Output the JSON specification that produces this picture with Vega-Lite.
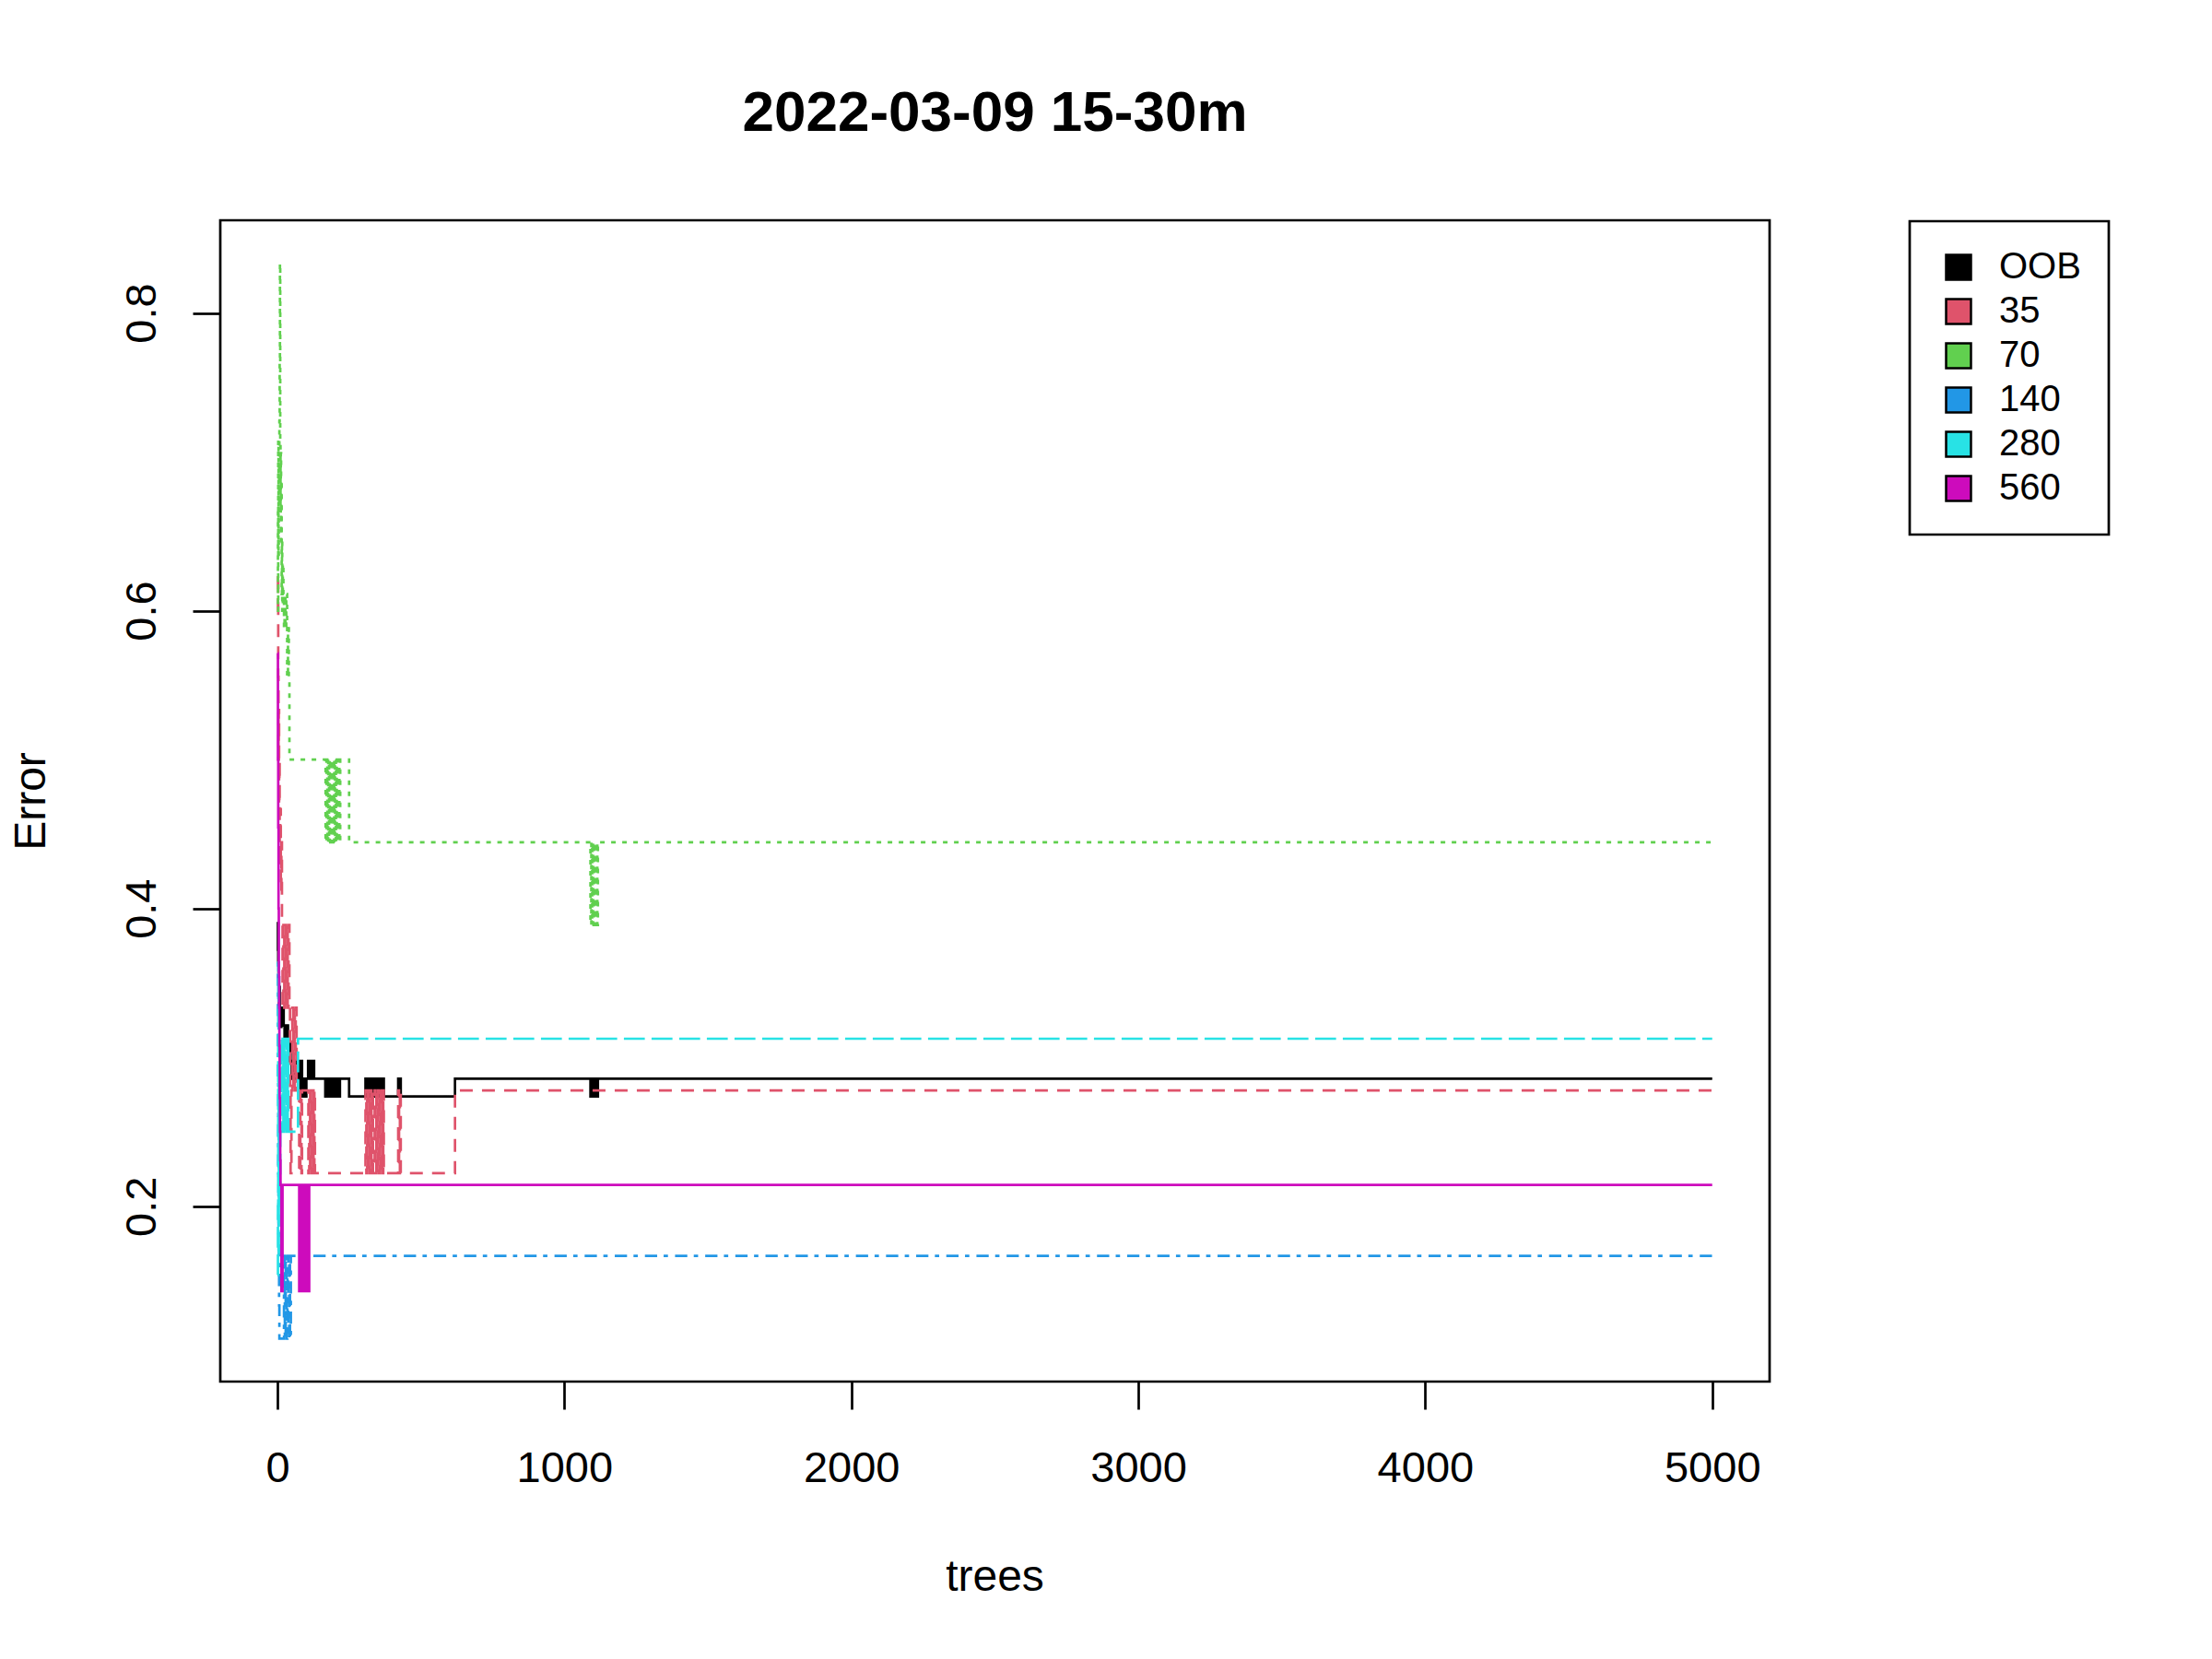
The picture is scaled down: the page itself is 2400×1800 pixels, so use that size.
{
  "$schema": "https://vega.github.io/schema/vega-lite/v6.json",
  "autosize": {"type": "none"},
  "padding": {"left": 239, "top": 239, "right": 480, "bottom": 301},
  "width": 1681,
  "height": 1260,
  "background": "white",
  "title": {"text": "2022-03-09 15-30m", "font": "Liberation Sans", "fontSize": 62, "fontWeight": "bold", "color": "black", "anchor": "middle", "baseline": "alphabetic", "offset": 35},
  "data": {"values": [
    {"series":"OOB","trees":1,"error":0.3714},{"series":"OOB","trees":2,"error":0.3902},{"series":"OOB","trees":3,"error":0.3636},{"series":"OOB","trees":4,"error":0.3492},{"series":"OOB","trees":5,"error":0.3538},{"series":"OOB","trees":6,"error":0.3333},{"series":"OOB","trees":7,"error":0.3472},{"series":"OOB","trees":8,"error":0.3243},{"series":"OOB","trees":9,"error":0.3333},{"series":"OOB","trees":10,"error":0.3291},{"series":"OOB","trees":12,"error":0.3205},{"series":"OOB","trees":14,"error":0.3333},{"series":"OOB","trees":16,"error":0.3214},{"series":"OOB","trees":19,"error":0.3333},{"series":"OOB","trees":22,"error":0.3214},{"series":"OOB","trees":25,"error":0.3095},{"series":"OOB","trees":28,"error":0.3214},{"series":"OOB","trees":31,"error":0.3095},{"series":"OOB","trees":34,"error":0.3214},{"series":"OOB","trees":37,"error":0.3095},{"series":"OOB","trees":40,"error":0.2976},{"series":"OOB","trees":43,"error":0.3095},{"series":"OOB","trees":46,"error":0.2976},{"series":"OOB","trees":50,"error":0.2857},{"series":"OOB","trees":53,"error":0.2976},{"series":"OOB","trees":56,"error":0.2857},{"series":"OOB","trees":60,"error":0.2976},{"series":"OOB","trees":64,"error":0.2857},{"series":"OOB","trees":68,"error":0.2976},{"series":"OOB","trees":72,"error":0.2857},{"series":"OOB","trees":76,"error":0.2976},{"series":"OOB","trees":80,"error":0.2738},{"series":"OOB","trees":83,"error":0.2976},{"series":"OOB","trees":86,"error":0.2738},{"series":"OOB","trees":89,"error":0.2857},{"series":"OOB","trees":92,"error":0.2738},{"series":"OOB","trees":95,"error":0.2857},{"series":"OOB","trees":98,"error":0.2738},{"series":"OOB","trees":101,"error":0.2857},{"series":"OOB","trees":107,"error":0.2976},{"series":"OOB","trees":110,"error":0.2857},{"series":"OOB","trees":113,"error":0.2976},{"series":"OOB","trees":116,"error":0.2857},{"series":"OOB","trees":119,"error":0.2976},{"series":"OOB","trees":122,"error":0.2857},{"series":"OOB","trees":125,"error":0.2976},{"series":"OOB","trees":128,"error":0.2857},
    {"series":"OOB","trees":167,"error":0.2738},{"series":"OOB","trees":170,"error":0.2857},{"series":"OOB","trees":173,"error":0.2738},{"series":"OOB","trees":176,"error":0.2857},{"series":"OOB","trees":179,"error":0.2738},{"series":"OOB","trees":182,"error":0.2857},{"series":"OOB","trees":185,"error":0.2738},{"series":"OOB","trees":188,"error":0.2857},{"series":"OOB","trees":191,"error":0.2738},{"series":"OOB","trees":194,"error":0.2857},{"series":"OOB","trees":197,"error":0.2738},{"series":"OOB","trees":200,"error":0.2857},{"series":"OOB","trees":203,"error":0.2738},{"series":"OOB","trees":206,"error":0.2857},{"series":"OOB","trees":209,"error":0.2738},{"series":"OOB","trees":212,"error":0.2857},{"series":"OOB","trees":215,"error":0.2738},{"series":"OOB","trees":218,"error":0.2857},
    {"series":"OOB","trees":250,"error":0.2738},
    {"series":"OOB","trees":307,"error":0.2857},{"series":"OOB","trees":310,"error":0.2738},{"series":"OOB","trees":313,"error":0.2857},{"series":"OOB","trees":316,"error":0.2738},{"series":"OOB","trees":319,"error":0.2857},{"series":"OOB","trees":322,"error":0.2738},{"series":"OOB","trees":325,"error":0.2857},{"series":"OOB","trees":328,"error":0.2738},{"series":"OOB","trees":331,"error":0.2857},{"series":"OOB","trees":333,"error":0.2738},
    {"series":"OOB","trees":339,"error":0.2857},{"series":"OOB","trees":342,"error":0.2738},{"series":"OOB","trees":345,"error":0.2857},{"series":"OOB","trees":348,"error":0.2738},{"series":"OOB","trees":351,"error":0.2857},{"series":"OOB","trees":354,"error":0.2738},{"series":"OOB","trees":357,"error":0.2857},{"series":"OOB","trees":360,"error":0.2738},{"series":"OOB","trees":363,"error":0.2857},{"series":"OOB","trees":366,"error":0.2738},{"series":"OOB","trees":369,"error":0.2857},{"series":"OOB","trees":371,"error":0.2738},
    {"series":"OOB","trees":421,"error":0.2857},{"series":"OOB","trees":424,"error":0.2738},{"series":"OOB","trees":427,"error":0.2857},{"series":"OOB","trees":430,"error":0.2738},
    {"series":"OOB","trees":619,"error":0.2857},
    {"series":"OOB","trees":1091,"error":0.2738},{"series":"OOB","trees":1094,"error":0.2857},{"series":"OOB","trees":1097,"error":0.2738},{"series":"OOB","trees":1100,"error":0.2857},{"series":"OOB","trees":1103,"error":0.2738},{"series":"OOB","trees":1106,"error":0.2857},{"series":"OOB","trees":1109,"error":0.2738},{"series":"OOB","trees":1112,"error":0.2857},{"series":"OOB","trees":1115,"error":0.2738},{"series":"OOB","trees":1117,"error":0.2857},
    {"series":"OOB","trees":5000,"error":0.2857},

    {"series":"35","trees":1,"error":0.6},{"series":"35","trees":2,"error":0.625},{"series":"35","trees":3,"error":0.5556},{"series":"35","trees":4,"error":0.5},{"series":"35","trees":5,"error":0.5333},{"series":"35","trees":6,"error":0.4615},{"series":"35","trees":7,"error":0.5},{"series":"35","trees":8,"error":0.4286},{"series":"35","trees":10,"error":0.4667},{"series":"35","trees":12,"error":0.4118},{"series":"35","trees":14,"error":0.4444},{"series":"35","trees":16,"error":0.3889},
    {"series":"35","trees":18,"error":0.3333},{"series":"35","trees":21,"error":0.3889},{"series":"35","trees":24,"error":0.3333},{"series":"35","trees":27,"error":0.3889},{"series":"35","trees":30,"error":0.3333},{"series":"35","trees":33,"error":0.3889},{"series":"35","trees":36,"error":0.3333},{"series":"35","trees":39,"error":0.3889},{"series":"35","trees":42,"error":0.3333},
    {"series":"35","trees":44,"error":0.2778},{"series":"35","trees":46,"error":0.2222},{"series":"35","trees":49,"error":0.2778},{"series":"35","trees":52,"error":0.3333},{"series":"35","trees":55,"error":0.2778},{"series":"35","trees":58,"error":0.3333},{"series":"35","trees":61,"error":0.2778},{"series":"35","trees":64,"error":0.3333},{"series":"35","trees":67,"error":0.2778},{"series":"35","trees":76,"error":0.2222},{"series":"35","trees":80,"error":0.2778},{"series":"35","trees":84,"error":0.2222},{"series":"35","trees":86,"error":0.2778},
    {"series":"35","trees":108,"error":0.2222},{"series":"35","trees":111,"error":0.2778},{"series":"35","trees":114,"error":0.2222},{"series":"35","trees":117,"error":0.2778},{"series":"35","trees":120,"error":0.2222},{"series":"35","trees":123,"error":0.2778},{"series":"35","trees":126,"error":0.2222},{"series":"35","trees":129,"error":0.2778},{"series":"35","trees":131,"error":0.2222},
    {"series":"35","trees":307,"error":0.2778},{"series":"35","trees":310,"error":0.2222},{"series":"35","trees":313,"error":0.2778},{"series":"35","trees":316,"error":0.2222},{"series":"35","trees":319,"error":0.2778},{"series":"35","trees":322,"error":0.2222},{"series":"35","trees":325,"error":0.2778},{"series":"35","trees":328,"error":0.2222},{"series":"35","trees":331,"error":0.2778},{"series":"35","trees":333,"error":0.2222},
    {"series":"35","trees":339,"error":0.2778},{"series":"35","trees":342,"error":0.2222},{"series":"35","trees":345,"error":0.2778},{"series":"35","trees":348,"error":0.2222},{"series":"35","trees":351,"error":0.2778},{"series":"35","trees":354,"error":0.2222},{"series":"35","trees":357,"error":0.2778},{"series":"35","trees":360,"error":0.2222},{"series":"35","trees":363,"error":0.2778},{"series":"35","trees":366,"error":0.2222},{"series":"35","trees":369,"error":0.2778},{"series":"35","trees":371,"error":0.2222},
    {"series":"35","trees":421,"error":0.2778},{"series":"35","trees":424,"error":0.2222},{"series":"35","trees":427,"error":0.2778},{"series":"35","trees":430,"error":0.2222},
    {"series":"35","trees":619,"error":0.2778},{"series":"35","trees":5000,"error":0.2778},

    {"series":"70","trees":1,"error":0.6667},{"series":"70","trees":2,"error":0.6},{"series":"70","trees":3,"error":0.7143},{"series":"70","trees":4,"error":0.6364},{"series":"70","trees":5,"error":0.7},{"series":"70","trees":6,"error":0.6667},{"series":"70","trees":7,"error":0.7273},{"series":"70","trees":8,"error":0.7692},{"series":"70","trees":9,"error":0.8333},{"series":"70","trees":10,"error":0.7143},{"series":"70","trees":11,"error":0.6667},{"series":"70","trees":12,"error":0.7059},{"series":"70","trees":13,"error":0.6471},{"series":"70","trees":14,"error":0.6875},{"series":"70","trees":15,"error":0.6111},{"series":"70","trees":16,"error":0.6471},{"series":"70","trees":17,"error":0.6},{"series":"70","trees":19,"error":0.6316},{"series":"70","trees":21,"error":0.6111},{"series":"70","trees":23,"error":0.5882},{"series":"70","trees":25,"error":0.6111},{"series":"70","trees":28,"error":0.5882},{"series":"70","trees":31,"error":0.6111},{"series":"70","trees":34,"error":0.5556},{"series":"70","trees":37,"error":0.5882},{"series":"70","trees":40,"error":0.5556},{"series":"70","trees":42,"error":0.5},
    {"series":"70","trees":168,"error":0.4444},{"series":"70","trees":171,"error":0.5},{"series":"70","trees":174,"error":0.4444},{"series":"70","trees":177,"error":0.5},{"series":"70","trees":180,"error":0.4444},{"series":"70","trees":183,"error":0.5},{"series":"70","trees":186,"error":0.4444},{"series":"70","trees":189,"error":0.5},{"series":"70","trees":192,"error":0.4444},{"series":"70","trees":195,"error":0.5},{"series":"70","trees":198,"error":0.4444},{"series":"70","trees":201,"error":0.5},{"series":"70","trees":204,"error":0.4444},{"series":"70","trees":207,"error":0.5},{"series":"70","trees":210,"error":0.4444},{"series":"70","trees":213,"error":0.5},{"series":"70","trees":216,"error":0.4444},{"series":"70","trees":219,"error":0.5},
    {"series":"70","trees":250,"error":0.4444},
    {"series":"70","trees":1091,"error":0.3889},{"series":"70","trees":1094,"error":0.4444},{"series":"70","trees":1097,"error":0.3889},{"series":"70","trees":1100,"error":0.4444},{"series":"70","trees":1103,"error":0.3889},{"series":"70","trees":1106,"error":0.4444},{"series":"70","trees":1109,"error":0.3889},{"series":"70","trees":1112,"error":0.4444},{"series":"70","trees":1115,"error":0.3889},{"series":"70","trees":1117,"error":0.4444},
    {"series":"70","trees":5000,"error":0.4444},

    {"series":"140","trees":1,"error":0.3636},{"series":"140","trees":2,"error":0.2857},{"series":"140","trees":3,"error":0.2222},{"series":"140","trees":4,"error":0.1818},{"series":"140","trees":5,"error":0.1538},{"series":"140","trees":6,"error":0.1333},{"series":"140","trees":7,"error":0.1111},
    {"series":"140","trees":23,"error":0.1667},{"series":"140","trees":26,"error":0.1111},{"series":"140","trees":29,"error":0.1667},{"series":"140","trees":32,"error":0.1111},{"series":"140","trees":35,"error":0.1667},{"series":"140","trees":38,"error":0.1111},{"series":"140","trees":41,"error":0.1667},{"series":"140","trees":44,"error":0.1111},{"series":"140","trees":47,"error":0.1667},{"series":"140","trees":5000,"error":0.1667},

    {"series":"280","trees":1,"error":0.1538},{"series":"280","trees":2,"error":0.2},{"series":"280","trees":3,"error":0.3636},{"series":"280","trees":4,"error":0.1667},{"series":"280","trees":5,"error":0.2857},{"series":"280","trees":6,"error":0.2},{"series":"280","trees":7,"error":0.25},{"series":"280","trees":8,"error":0.2143},{"series":"280","trees":10,"error":0.2667},{"series":"280","trees":12,"error":0.3125},{"series":"280","trees":15,"error":0.25},{"series":"280","trees":18,"error":0.3125},{"series":"280","trees":21,"error":0.25},{"series":"280","trees":24,"error":0.3125},{"series":"280","trees":27,"error":0.25},{"series":"280","trees":30,"error":0.3125},{"series":"280","trees":33,"error":0.25},{"series":"280","trees":36,"error":0.3125},{"series":"280","trees":38,"error":0.25},{"series":"280","trees":72,"error":0.3125},{"series":"280","trees":5000,"error":0.3125},

    {"series":"560","trees":1,"error":0.5714},{"series":"560","trees":2,"error":0.5},{"series":"560","trees":3,"error":0.4545},{"series":"560","trees":4,"error":0.4},{"series":"560","trees":5,"error":0.3571},{"series":"560","trees":6,"error":0.3333},{"series":"560","trees":7,"error":0.3077},{"series":"560","trees":8,"error":0.2727},{"series":"560","trees":9,"error":0.25},{"series":"560","trees":10,"error":0.2308},{"series":"560","trees":11,"error":0.2143},{"series":"560","trees":14,"error":0.1429},{"series":"560","trees":18,"error":0.2143},
    {"series":"560","trees":76,"error":0.1429},{"series":"560","trees":79,"error":0.2143},{"series":"560","trees":82,"error":0.1429},{"series":"560","trees":85,"error":0.2143},{"series":"560","trees":88,"error":0.1429},{"series":"560","trees":91,"error":0.2143},{"series":"560","trees":94,"error":0.1429},{"series":"560","trees":97,"error":0.2143},{"series":"560","trees":100,"error":0.1429},{"series":"560","trees":103,"error":0.2143},{"series":"560","trees":106,"error":0.1429},{"series":"560","trees":109,"error":0.1429},{"series":"560","trees":111,"error":0.2143},{"series":"560","trees":5000,"error":0.2143}
  ]},
  "encoding": {
    "x": {"field": "trees", "type": "quantitative",
      "scale": {"domain": [-198.96, 5199.96], "nice": false, "zero": false},
      "axis": {"values": [0, 1000, 2000, 3000, 4000, 5000], "format": "d", "grid": false, "domain": false,
        "tickSize": 30, "tickWidth": 2.7, "tickColor": "black",
        "labelFont": "Liberation Sans", "labelFontSize": 47, "labelColor": "black", "labelBaseline": "alphabetic", "labelPadding": 78, "labelFlush": false, "labelOverlap": false,
        "title": "trees", "titleFont": "Liberation Sans", "titleFontSize": 48, "titleFontWeight": "normal", "titleColor": "black",
        "titleBaseline": "alphabetic", "titleAlign": "center", "titleX": 840, "titleY": 226}},
    "y": {"field": "error", "type": "quantitative",
      "scale": {"domain": [0.08222, 0.86222], "nice": false, "zero": false},
      "axis": {"values": [0.2, 0.4, 0.6, 0.8], "format": ".1f", "grid": false, "domain": false,
        "tickSize": 30, "tickWidth": 2.7, "tickColor": "black",
        "labelFont": "Liberation Sans", "labelFontSize": 47, "labelColor": "black", "labelAngle": -90, "labelAlign": "center", "labelBaseline": "alphabetic", "labelPadding": 41, "labelFlush": false, "labelOverlap": false,
        "title": "Error", "titleFont": "Liberation Sans", "titleFontSize": 48, "titleFontWeight": "normal", "titleColor": "black",
        "titleAngle": -90, "titleBaseline": "alphabetic", "titleAlign": "center", "titleX": -191, "titleY": 630}}
  },
  "layer": [
    {
      "transform": [{"filter": "false"}],
      "mark": {"type": "square", "filled": true, "stroke": "black", "strokeWidth": 2.5, "opacity": 1},
      "encoding": {
        "color": {"field": "series", "type": "nominal",
          "scale": {"domain": ["OOB", "35", "70", "140", "280", "560"], "range": ["#000000", "#DF536B", "#61D04F", "#2297E6", "#28E2E5", "#CD0BBC"]},
          "legend": {"orient": "none", "legendX": 1833, "legendY": 1, "title": null,
            "strokeColor": "black", "padding": 30, "fillColor": "white",
            "symbolType": "square", "symbolSize": 729, "symbolStrokeWidth": 2.5, "symbolStrokeColor": "black", "symbolOpacity": 1, "symbolOffset": 3,
            "labelFont": "Liberation Sans", "labelFontSize": 40, "labelColor": "black", "labelOffset": 24, "rowPadding": 8,
            "encode": {"legend": {"update": {"strokeWidth": {"value": 2.7}}}}}}
      }
    },
    {
      "mark": {"type": "line", "interpolate": "step-after", "strokeWidth": 2.7},
      "encoding": {
        "color": {"field": "series", "type": "nominal",
          "scale": {"domain": ["OOB", "35", "70", "140", "280", "560"], "range": ["#000000", "#DF536B", "#61D04F", "#2297E6", "#28E2E5", "#CD0BBC"]},
          "legend": null},
        "strokeDash": {"field": "series", "type": "nominal",
          "scale": {"domain": ["OOB", "35", "70", "140", "280", "560"], "range": [[1, 0], [14, 10], [5, 7], [4.7, 7.7, 13.3, 7], [22.7, 7.3], [1, 0]]},
          "legend": null}
      }
    }
  ],
  "resolve": {"legend": {"color": "independent"}},
  "config": {
    "font": "Liberation Sans",
    "view": {"stroke": "black", "strokeWidth": 2.7}
  }
}
